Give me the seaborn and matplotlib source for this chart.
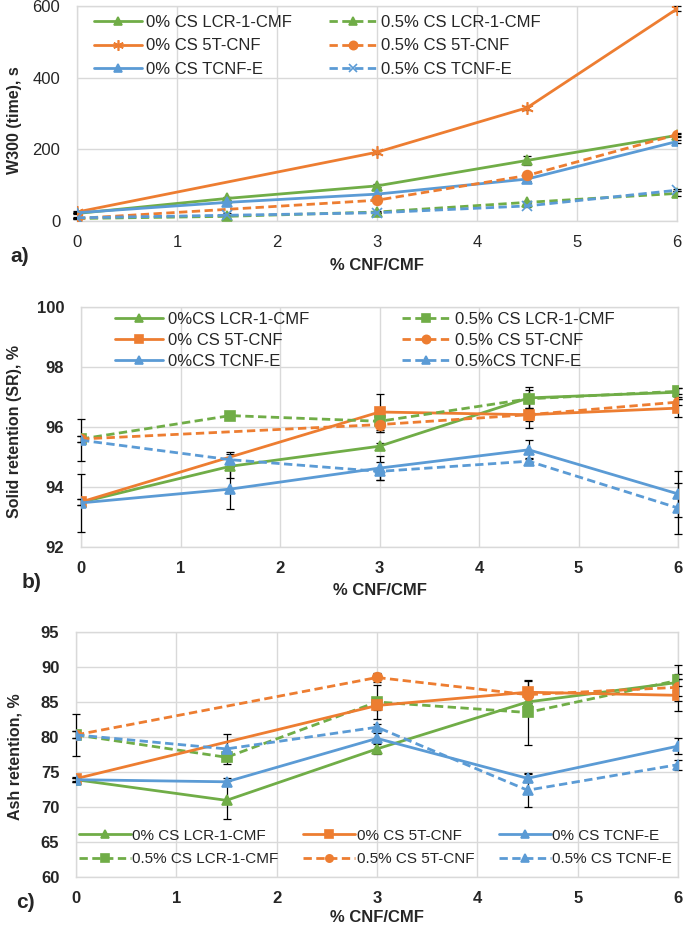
import numpy as np
import pandas as pd
import seaborn as sns
import matplotlib.pyplot as plt

# x positions (% CNF/CMF); 5T-CNF has no 1.5 % point
x_all = [0, 1.5, 3, 4.5, 6]
x_5t = [0, 3, 4.5, 6]

# a) W300 (time), s
w300_lcr_0 = [21, 63, 98, 169, 239]
w300_5t_0 = [25, 192, 316, 592]
w300_tcnf_0 = [23, 52, 75, 117, 222]
w300_lcr_05 = [7, 13, 25, 52, 77]
w300_5t_05 = [7, 58, 127, 241]
w300_tcnf_05 = [9, 16, 23, 42, 86]
w300_err_lcr_0 = [2, 3, 4, 12, 5]
w300_err_5t_0 = [2, 4, 5, 7]
w300_err_tcnf_0 = [2, 2, 3, 4, 4]
w300_err_lcr_05 = [1, 8, 3, 3, 8]
w300_err_5t_05 = [1, 3, 4, 4]
w300_err_tcnf_05 = [1, 2, 2, 2, 3]

# b) Solid retention, %
sr_lcr_0 = [93.49, 94.69, 95.36, 96.97, 97.16]
sr_5t_0 = [93.5, 96.5, 96.41, 96.63]
sr_tcnf_0 = [93.47, 93.93, 94.63, 95.24, 93.77]
sr_lcr_05 = [95.6, 96.38, 96.19, 96.94, 97.19]
sr_5t_05 = [95.6, 96.08, 96.41, 96.83]
sr_tcnf_05 = [95.56, 94.91, 94.52, 94.86, 93.3]
sr_err_lcr_0 = [0.1, 0.4, 0.1, 0.35, 0.15]
sr_err_5t_0 = [0.1, 0.6, 0.2, 0.3]
sr_err_tcnf_0 = [0.97, 0.67, 0.4, 0.32, 0.78]
sr_err_lcr_05 = [0.1, 0.1, 0.35, 0.3, 0.1]
sr_err_5t_05 = [0.1, 0.25, 0.45, 0.1]
sr_err_tcnf_05 = [0.7, 0.25, 0.3, 0.1, 0.85]

# c) Ash retention, %
ar_lcr_0 = [73.9, 70.95, 78.3, 85.0, 87.8]
ar_5t_0 = [74.05, 84.5, 86.4, 85.95]
ar_tcnf_0 = [73.9, 73.6, 79.8, 74.1, 78.7]
ar_lcr_05 = [80.3, 77.1, 85.0, 83.5, 88.1]
ar_5t_05 = [80.3, 88.5, 86.05, 87.1]
ar_tcnf_05 = [80.3, 78.3, 81.4, 72.4, 76.05]
ar_err_lcr_0 = [0.3, 2.7, 0.7, 0.6, 0.5]
ar_err_5t_0 = [0.3, 0.6, 1.6, 2.3]
ar_err_tcnf_0 = [0.3, 0.5, 0.7, 0.6, 1.1]
ar_err_lcr_05 = [0.5, 0.5, 2.4, 4.7, 2.2]
ar_err_5t_05 = [0.5, 0.6, 0.5, 1.9]
ar_err_tcnf_05 = [3.0, 2.1, 0.5, 2.4, 0.7]

GREEN = '#70AD47'
ORANGE = '#ED7D31'
BLUE = '#5B9BD5'
DASH = (0, (3, 1.6))
GRID = '#d9d9d9'

sns.set_style('whitegrid')
plt.rcParams['font.family'] = ['Liberation Sans', 'DejaVu Sans']

fig = plt.figure(figsize=(6.85, 9.25), dpi=100)


def draw_series(ax, x, y, err, label, color, marker, ls, ms=7):
    sns.lineplot(x=x, y=y, ax=ax, color=color, marker=marker, linestyle=ls,
                 linewidth=2.0, markersize=ms, markeredgecolor=color,
                 markeredgewidth=1.2, label=label, legend=False, zorder=3)
    # error bars above the spines but behind the markers
    ax.errorbar(x, y, yerr=err, fmt='none', ecolor='black', elinewidth=0.9,
                capsize=3, capthick=0.9, zorder=2.7, clip_on=False,
                label='_nolegend_')


def style_axes(ax, ylim, ystep, bold, labelpad):
    ax.set_xlim(0, 6)
    ax.set_ylim(*ylim)
    ax.set_xticks(range(0, 7))
    ax.set_yticks(np.arange(ylim[0], ylim[1] + 0.01, ystep))
    ax.grid(True, color=GRID, linewidth=1)
    for s in ax.spines.values():
        s.set_color(GRID)
        s.set_linewidth(1)
    w = 'bold' if bold else 'normal'
    ax.tick_params(axis='both', length=0, labelsize=12)
    ax.tick_params(axis='x', pad=10)
    ax.tick_params(axis='y', pad=12)
    for t in ax.get_xticklabels() + ax.get_yticklabels():
        t.set_fontweight(w)
    ax.set_xlabel('% CNF/CMF', fontsize=12, fontweight='bold', labelpad=labelpad)
    ax.set_ylabel('')


def px(x0, y0, x1, y1):
    W, H = 685.0, 925.0
    return [x0 / W, 1 - y1 / H, (x1 - x0) / W, (y1 - y0) / H]


# ---- a) ----
ax1 = fig.add_axes(px(77, 6, 677, 221))
draw_series(ax1, x_all, w300_lcr_0, w300_err_lcr_0, '0% CS LCR-1-CMF', GREEN, '^', '-')
draw_series(ax1, x_5t, w300_5t_0, w300_err_5t_0, '0% CS 5T-CNF', ORANGE, (6, 2, 0), '-', ms=9)
draw_series(ax1, x_all, w300_tcnf_0, w300_err_tcnf_0, '0% CS TCNF-E', BLUE, '^', '-')
draw_series(ax1, x_all, w300_lcr_05, w300_err_lcr_05, '0.5% CS LCR-1-CMF', GREEN, '^', DASH)
draw_series(ax1, x_5t, w300_5t_05, w300_err_5t_05, '0.5% CS 5T-CNF', ORANGE, 'o', DASH)
draw_series(ax1, x_all, w300_tcnf_05, w300_err_tcnf_05, '0.5% CS TCNF-E', BLUE, 'x', DASH)
style_axes(ax1, (0, 600), 200, bold=False, labelpad=6)
ax1.legend(loc='upper left', bbox_to_anchor=(0.028, 0.958), ncol=2, frameon=False,
           fontsize=12, handlelength=2.9, handletextpad=0.25, columnspacing=2.2,
           labelspacing=0.5, borderaxespad=0, borderpad=0, markerscale=0.85)
fig.text(15 / 685, 1 - 120 / 925, 'W300 (time), s', rotation=90, ha='center',
         va='center', fontsize=11.5, fontweight='bold')
fig.text(10 / 685, 1 - 257 / 925, 'a)', fontsize=15, fontweight='bold', va='center')

# ---- b) ----
ax2 = fig.add_axes(px(81, 307, 678, 547))
draw_series(ax2, x_all, sr_lcr_0, sr_err_lcr_0, '0%CS LCR-1-CMF', GREEN, '^', '-')
draw_series(ax2, x_5t, sr_5t_0, sr_err_5t_0, '0% CS 5T-CNF', ORANGE, 's', '-')
draw_series(ax2, x_all, sr_tcnf_0, sr_err_tcnf_0, '0%CS TCNF-E', BLUE, '^', '-')
draw_series(ax2, x_all, sr_lcr_05, sr_err_lcr_05, '0.5% CS LCR-1-CMF', GREEN, 's', DASH)
draw_series(ax2, x_5t, sr_5t_05, sr_err_5t_05, '0.5% CS 5T-CNF', ORANGE, 'o', DASH)
draw_series(ax2, x_all, sr_tcnf_05, sr_err_tcnf_05, '0.5%CS TCNF-E', BLUE, '^', DASH)
style_axes(ax2, (92, 100), 2, bold=True, labelpad=5)
ax2.legend(loc='upper left', bbox_to_anchor=(0.057, 0.979), ncol=2, frameon=False,
           fontsize=12, handlelength=2.9, handletextpad=0.25, columnspacing=5.6,
           labelspacing=0.35, borderaxespad=0, borderpad=0, markerscale=0.85)
fig.text(15 / 685, 1 - 432 / 925, 'Solid retention (SR), %', rotation=90, ha='center',
         va='center', fontsize=11.5, fontweight='bold')
fig.text(22 / 685, 1 - 582 / 925, 'b)', fontsize=15, fontweight='bold', va='center')

# ---- c) ----
ax3 = fig.add_axes(px(76, 632, 678, 877))
draw_series(ax3, x_all, ar_lcr_0, ar_err_lcr_0, '0% CS LCR-1-CMF', GREEN, '^', '-')
draw_series(ax3, x_all, ar_lcr_05, ar_err_lcr_05, '0.5% CS LCR-1-CMF', GREEN, 's', DASH)
draw_series(ax3, x_5t, ar_5t_0, ar_err_5t_0, '0% CS 5T-CNF', ORANGE, 's', '-')
draw_series(ax3, x_5t, ar_5t_05, ar_err_5t_05, '0.5% CS 5T-CNF', ORANGE, 'o', DASH)
draw_series(ax3, x_all, ar_tcnf_0, ar_err_tcnf_0, '0% CS TCNF-E', BLUE, '^', '-')
draw_series(ax3, x_all, ar_tcnf_05, ar_err_tcnf_05, '0.5% CS TCNF-E', BLUE, '^', DASH)
style_axes(ax3, (60, 95), 5, bold=True, labelpad=3)
ax3.legend(loc='lower left', bbox_to_anchor=(0.005, 0.045), ncol=3, frameon=False,
           fontsize=11, handlelength=3.4, handletextpad=0.1, columnspacing=1.6,
           labelspacing=0.62, borderaxespad=0, borderpad=0, markerscale=0.75)
fig.text(15 / 685, 1 - 757 / 925, 'Ash retention, %', rotation=90, ha='center',
         va='center', fontsize=11.5, fontweight='bold')
fig.text(16 / 685, 1 - 902 / 925, 'c)', fontsize=15, fontweight='bold', va='center')

fig.savefig('out.png', dpi=100)
